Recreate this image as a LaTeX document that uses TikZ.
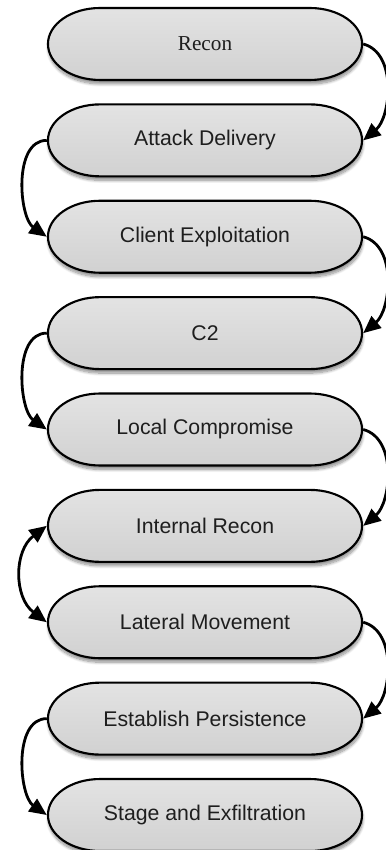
\documentclass[tikz,border=0pt]{standalone}
\usepackage{fontspec}
\setmainfont{Liberation Sans}
\newfontfamily\seriffont{Liberation Serif}
\usepackage{tikz}
\usetikzlibrary{arrows.meta,calc,backgrounds,shadows.blur}
\definecolor{stagetop}{HTML}{E3E3E3}
\definecolor{stagebottom}{HTML}{D1D1D1}
\definecolor{stagetext}{HTML}{1E1E1E}

\begin{document}
\begin{tikzpicture}[
      stage/.style={minimum width=8.31cm,minimum height=1.905cm,outer sep=0.9pt,text=stagetext,font=\fontsize{16}{19}\selectfont},
      stageshape/.style={draw=black,line width=1.6pt,top color=stagetop,bottom color=stagebottom,
        blur shadow={shadow xshift=0.5pt,shadow yshift=-3pt,shadow opacity=45,shadow blur steps=10}},
      flow/.style={-{Triangle[length=4.6mm,width=4mm]},line width=2.1pt},
      flowboth/.style={{Triangle[length=4.6mm,width=4mm]}-{Triangle[length=4.6mm,width=4mm]},line width=2.1pt}
    ]
      \useasboundingbox (0,0) rectangle (10.21,-22.49);
      \node[stage] (recon) at (5.424,-1.164) {\seriffont Recon};
      \node[stage] (delivery) at (5.424,-3.714) {Attack Delivery};
      \node[stage] (exploit) at (5.424,-6.264) {Client Exploitation};
      \node[stage] (ctwo) at (5.424,-8.814) {C2};
      \node[stage] (local) at (5.424,-11.364) {Local Compromise};
      \node[stage] (intrecon) at (5.424,-13.914) {Internal Recon};
      \node[stage] (lateral) at (5.424,-16.464) {Lateral Movement};
      \node[stage] (persist) at (5.424,-19.014) {Establish Persistence};
      \node[stage] (exfil) at (5.424,-21.564) {Stage and Exfiltration};
      % pill outlines with elliptic caps, behind the labels
      \begin{scope}[on background layer]
        \foreach \n in {recon,delivery,exploit,ctwo,local,intrecon,lateral,persist,exfil}
          \draw[stageshape] ($(\n.center)+(-2.78,0.952)$) -- ($(\n.center)+(2.78,0.952)$)
            arc[start angle=90,end angle=-90,x radius=1.375cm,y radius=0.952cm]
            -- ($(\n.center)+(-2.78,-0.952)$)
            arc[start angle=270,end angle=90,x radius=1.375cm,y radius=0.952cm] -- cycle;
      \end{scope}
      % right-hand hops
      \draw[flow] (recon.east) to[out=-15,in=40,looseness=0.95] (delivery.east);
      \draw[flow] (exploit.east) to[out=-15,in=40,looseness=0.95] (ctwo.east);
      \draw[flow] (local.east) to[out=-15,in=40,looseness=0.95] (intrecon.east);
      \draw[flow] (lateral.east) to[out=-15,in=40,looseness=0.95] (persist.east);
      % left-hand hops
      \draw[flow] (delivery.west) to[out=180,in=145,looseness=0.9] (exploit.west);
      \draw[flow] (ctwo.west) to[out=180,in=145,looseness=0.9] (local.west);
      \draw[flowboth] (intrecon.west) to[out=217,in=143,looseness=1.1] (lateral.west);
      \draw[flow] (persist.west) to[out=180,in=145,looseness=0.9] (exfil.west);
    \end{tikzpicture}
\end{document}
